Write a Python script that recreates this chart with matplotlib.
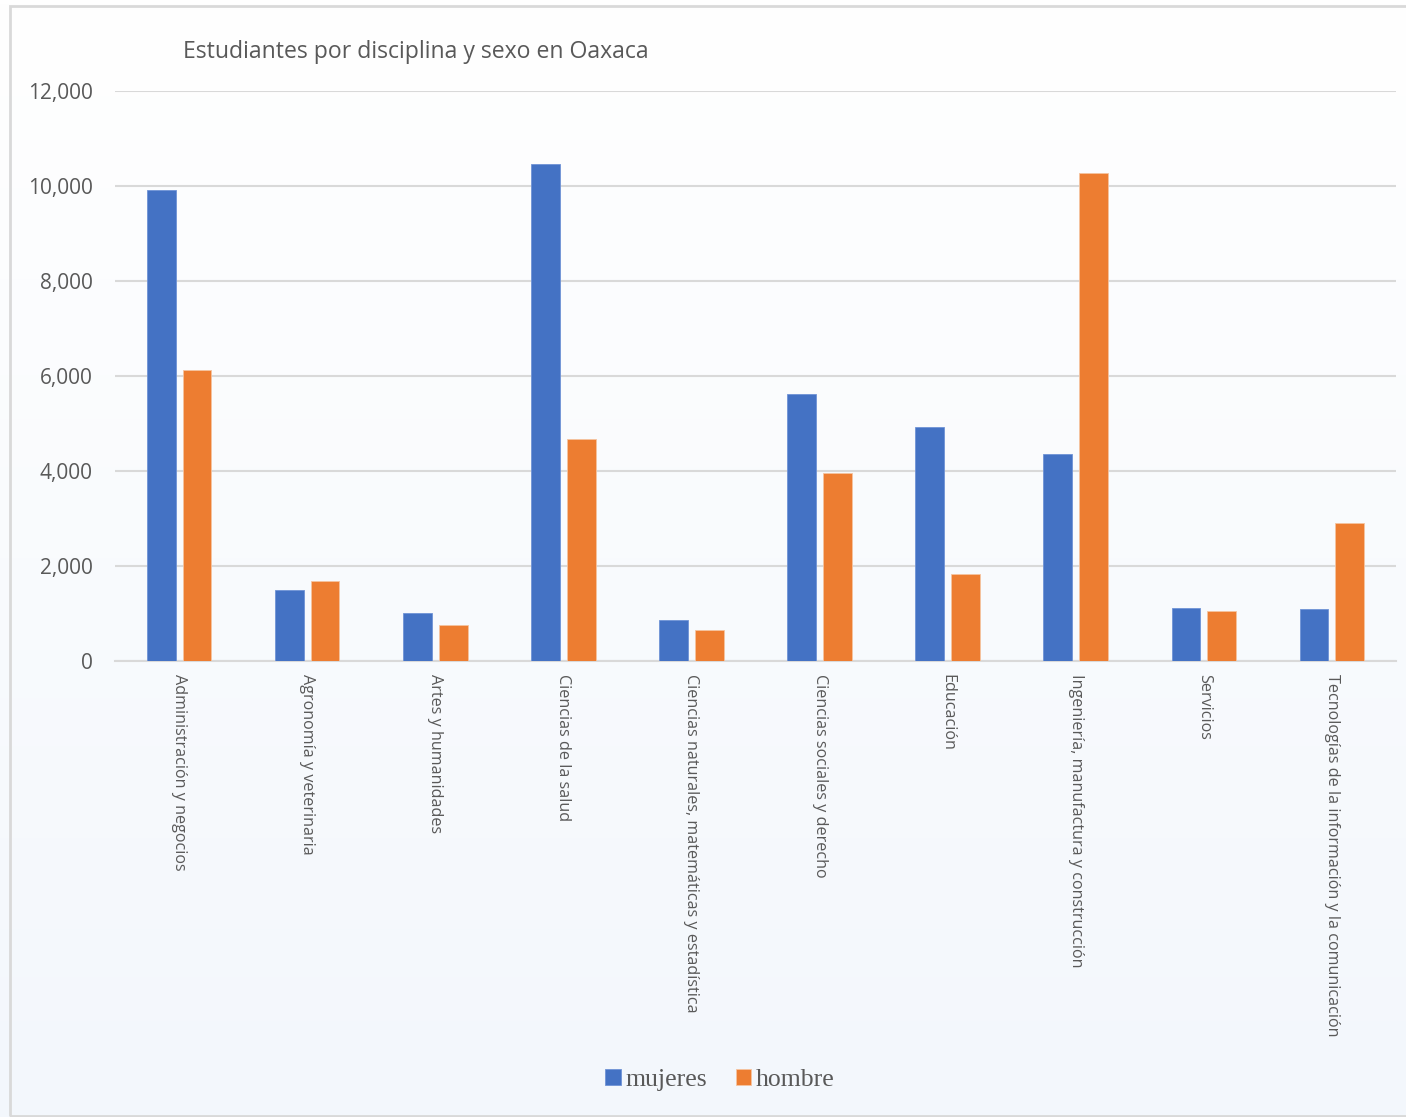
import matplotlib
matplotlib.use("Agg")
import matplotlib.pyplot as plt
import numpy as np
from matplotlib.patches import Rectangle

categories = [
    "Administración y negocios",
    "Agronomía y veterinaria",
    "Artes y humanidades",
    "Ciencias de la salud",
    "Ciencias naturales, matemáticas y estadística",
    "Ciencias sociales y derecho",
    "Educación",
    "Ingeniería, manufactura y construcción",
    "Servicios",
    "Tecnologías de la información y la comunicación",
]
mujeres = [9920, 1500, 1010, 10460, 860, 5620, 4930, 4360, 1110, 1100]
hombre = [6130, 1690, 760, 4680, 650, 3960, 1830, 10270, 1060, 2910]
yticks = [0, 2000, 4000, 6000, 8000, 10000, 12000]
title = "Estudiantes por disciplina y sexo en Oaxaca"

W, H = 1406, 1117
fig = plt.figure(figsize=(W / 100, H / 100), dpi=100)

# background gradient
bg = fig.add_axes([0, 0, 1, 1], zorder=-10)
grad = np.linspace(0, 1, 256).reshape(-1, 1)
top = np.array([1.0, 1.0, 1.0])
bot = np.array([0xF3, 0xF7, 0xFC]) / 255
img = top[None, None, :] * (1 - grad[:, :, None]) + bot[None, None, :] * grad[:, :, None]
bg.imshow(img, aspect="auto", extent=[0, 1, 0, 1], origin="upper")
bg.set_xlim(0, 1); bg.set_ylim(0, 1)
bg.axis("off")
# border
bg.add_patch(Rectangle((10 / W, 1 - 1116 / H), 1.1, (1116 - 6) / H,
                       fill=False, edgecolor="#d9d9d9", linewidth=2))

x0, x1 = 115, 1396
y_top, y_bot = 91, 661
ax = fig.add_axes([x0 / W, 1 - y_bot / H, (x1 - x0) / W, (y_bot - y_top) / H])
ax.patch.set_alpha(0)

x = np.arange(len(categories))
bw = 0.225
off = 0.14
ax.bar(x - off, mujeres, bw, color="#4472C4", edgecolor="#6f93d6", linewidth=0.6, label="mujeres", zorder=3)
ax.bar(x + off, hombre, bw, color="#ED7D31", edgecolor="#f5c4a0", linewidth=0.6, label="hombre", zorder=3)

ax.set_xlim(-0.5, len(categories) - 0.5)
ax.set_ylim(0, 12000)
ax.set_yticks(yticks)
ax.set_yticklabels([f"{v:,}" for v in yticks])
ax.yaxis.grid(True, color="#d9d9d9", linewidth=1.5, zorder=0)
ax.set_axisbelow(True)
for s in ["top", "right", "left"]:
    ax.spines[s].set_visible(False)
ax.spines["bottom"].set_color("#d9d9d9")
ax.spines["bottom"].set_linewidth(1.5)
ax.tick_params(axis="both", length=0)
ax.tick_params(axis="y", labelsize=15, labelcolor="#595959", pad=16)
ax.set_xticks(x)
ax.set_xticklabels(categories, rotation=-90, fontsize=11.6, color="#595959",
                   family="Open Sans", va="top", ha="center")
ax.tick_params(axis="x", pad=9)
for lab in ax.get_yticklabels():
    lab.set_family("Open Sans")

fig.text(183 / W, 1 - 52 / H, title, fontsize=16.6, color="#595959",
         family="Open Sans", va="center", ha="left")

leg = fig.legend(loc="center", bbox_to_anchor=(720 / W, 1 - 1080 / H), ncol=2,
                 frameon=False, prop={"family": "Liberation Serif", "size": 18.5},
                 handlelength=0.6, handleheight=0.6, handletextpad=0.2,
                 columnspacing=1.1)
for t in leg.get_texts():
    t.set_color("#595959")

fig.savefig("out.png", dpi=100)
